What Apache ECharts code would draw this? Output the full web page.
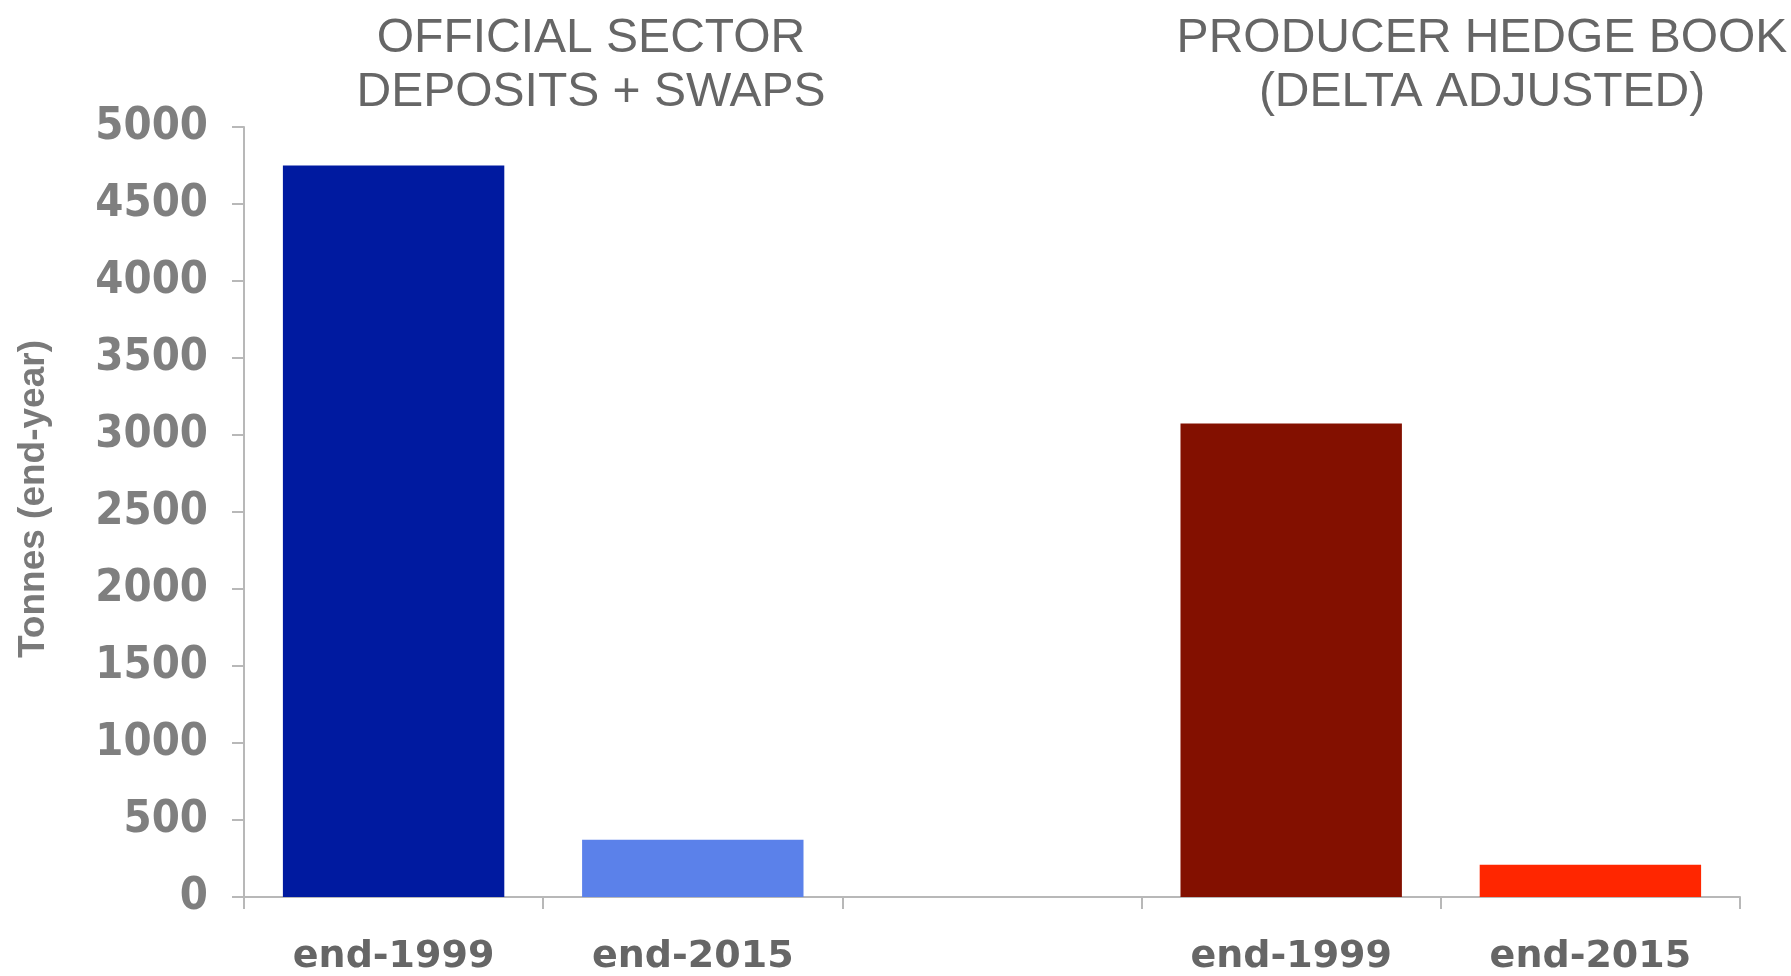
<!DOCTYPE html>
<html>
<head>
<meta charset="utf-8">
<script src="https://cdn.jsdelivr.net/npm/echarts@6/dist/echarts.min.js"></script>
<style>
  html, body { margin: 0; padding: 0; background: #ffffff; }
  #chart { width: 1791px; height: 976px; }
</style>
</head>
<body>
<div id="chart"></div>
<script>
// Gold lending positions, tonnes at end of year
const categories = ['end-1999', 'end-2015', '', 'end-1999', 'end-2015'];
const tonnes = [4750, 372, null, 3075, 210];
const barColors = ['#001AA0', '#5B81EA', '#ffffff', '#831000', '#FF2600'];
const groupTitles = ['OFFICIAL SECTOR\nDEPOSITS + SWAPS', 'PRODUCER HEDGE BOOK\n(DELTA ADJUSTED)'];
const yTicks = { min: 0, max: 5000, interval: 500 };
const yName = 'Tonnes (end-year)';

const chart = echarts.init(document.getElementById('chart'), null, { renderer: 'canvas' });

const titleStyle = {
  fontFamily: 'Liberation Sans',
  fontWeight: 'normal',
  fontSize: 48,
  lineHeight: 54,
  color: '#666666'
};

chart.setOption({
  animation: false,
  backgroundColor: '#ffffff',
  title: [
    { text: groupTitles[0], left: 586, top: 7, textAlign: 'center', textStyle: titleStyle },
    { text: groupTitles[1], left: 1477, top: 7, textAlign: 'center', textStyle: titleStyle }
  ],
  grid: { left: 244, right: 51, top: 127, bottom: 77, containLabel: false },
  xAxis: {
    type: 'category',
    data: categories,
    boundaryGap: true,
    axisLine: { show: true, lineStyle: { color: '#b8b8b8', width: 2 } },
    axisTick: { show: true, length: 12, interval: 0, lineStyle: { color: '#b8b8b8', width: 2 } },
    axisLabel: {
      interval: 0,
      margin: 41,
      fontFamily: 'DejaVu Sans',
      fontWeight: 'bold',
      fontSize: 38,
      color: '#666666'
    }
  },
  yAxis: {
    type: 'value',
    min: yTicks.min,
    max: yTicks.max,
    interval: yTicks.interval,
    name: yName,
    nameLocation: 'middle',
    nameRotate: 90,
    nameGap: 192,
    nameTextStyle: {
      fontFamily: 'Liberation Sans',
      fontWeight: 'bold',
      fontSize: 37,
      color: '#7a7a7a',
      padding: [0, 0, 0, 26]
    },
    axisLine: { show: true, lineStyle: { color: '#b8b8b8', width: 2 } },
    axisTick: { show: true, length: 12, lineStyle: { color: '#b8b8b8', width: 2 } },
    splitLine: { show: false },
    axisLabel: {
      margin: 36,
      fontFamily: '"DejaVu Sans Condensed", "Liberation Sans"',
      fontWeight: 'bold',
      fontSize: 45,
      color: '#7f7f7f',
      formatter: (v) => String(v)
    }
  },
  series: [{
    type: 'bar',
    data: tonnes.map((v, i) => ({ value: v, itemStyle: { color: barColors[i] } })),
    barWidth: '74%'
  }]
});
</script>
</body>
</html>
